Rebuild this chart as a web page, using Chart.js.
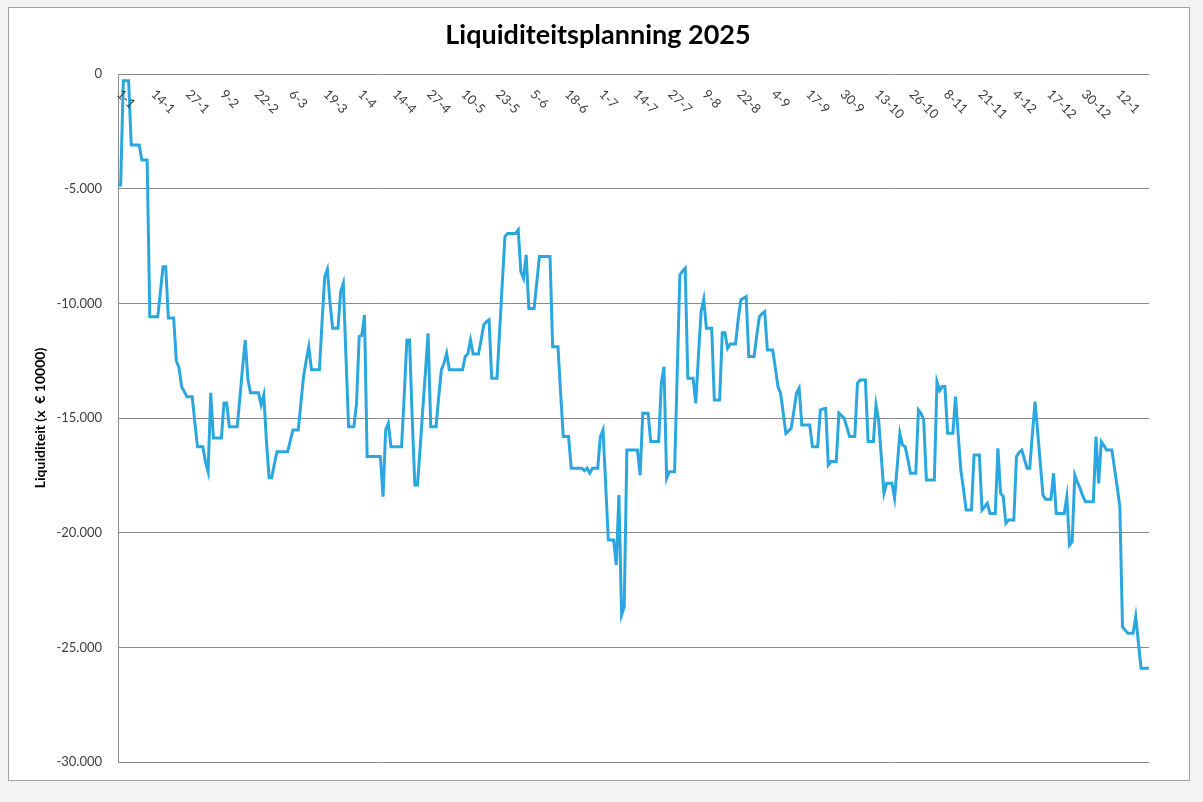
<!DOCTYPE html>
<html>
<head>
<meta charset="utf-8">
<script src="https://cdn.jsdelivr.net/npm/chart.js@4.4.1/dist/chart.umd.min.js"></script>
<style>
  body { margin: 0; background: #f3f3f3; }
  #frame { position: absolute; left: 8px; top: 7px; width: 1182px; height: 774px; background: #fff; border: 1px solid #a3a3a3; box-sizing: border-box; }
  #wrap { position: absolute; left: 0; top: 0; width: 1203px; height: 802px; }
</style>
</head>
<body>
<div id="frame"></div>
<div id="wrap"><canvas id="liquiditeit"></canvas></div>
<script>
// gegevens
var datumJaar = 2024; // de datums in het blad lopen als een schrikkeljaar (6-3, 19-3, ...)
var tickStap = 13;    // elke 13e dag een label
var yTicks = [0, -5000, -10000, -15000, -20000, -25000, -30000];

// saldo per dag vanaf 1-1
var saldo = [
  -4840, -4840, -290, -290, -290, -3100, -3100, -3100, -3100, -3750,
  -3750, -3750, -10580, -10580, -10580, -10580, -9500, -8400, -8400, -10640,
  -10640, -10640, -12500, -12800, -13630, -13850, -14070, -14070, -14070, -15200,
  -16250, -16250, -16250, -16900, -17340, -13900, -15870, -15870, -15870, -15870,
  -14350, -14350, -15380, -15380, -15380, -15380, -14100, -12800, -11600, -13300,
  -13900, -13900, -13900, -13900, -14430, -14000, -16000, -17600, -17600, -17000,
  -16470, -16470, -16470, -16470, -16470, -16000, -15520, -15520, -15520, -14360,
  -13200, -12500, -11890, -12900, -12900, -12900, -12900, -10800, -8840, -8520,
  -10000, -11090, -11090, -11090, -9490, -9130, -12300, -15380, -15380, -15380,
  -14360, -11450, -11400, -10510, -16680, -16680, -16680, -16680, -16680, -16680,
  -18430, -15520, -15230, -16250, -16250, -16250, -16250, -16250, -14000, -11600,
  -11600, -15000, -17920, -17920, -16300, -14600, -13000, -11310, -15380, -15380,
  -15380, -14100, -12900, -12610, -12180, -12900, -12900, -12900, -12900, -12900,
  -12900, -12320, -12200, -11600, -12210, -12210, -12210, -11600, -10940, -10800,
  -10720, -13270, -13270, -13270, -11200, -9100, -7090, -6950, -6950, -6950,
  -6950, -6800, -8620, -8910, -7890, -10220, -10220, -10220, -9100, -7960,
  -7960, -7960, -7960, -7960, -11890, -11890, -11890, -13900, -15810, -15810,
  -15810, -17190, -17190, -17190, -17190, -17190, -17300, -17190, -17400, -17190,
  -17190, -17190, -15810, -15520, -17900, -20320, -20320, -20320, -21410, -18360,
  -23590, -23230, -16400, -16400, -16400, -16400, -16400, -17490, -14790, -14790,
  -14790, -16030, -16030, -16030, -16030, -13490, -12760, -17630, -17340, -17340,
  -17340, -13000, -8760, -8600, -8470, -13270, -13270, -13270, -14360, -12300,
  -10360, -9820, -11090, -11090, -11090, -14210, -14210, -14210, -11280, -11280,
  -11960, -11770, -11770, -11770, -10700, -9850, -9780, -9710, -12320, -12320,
  -12320, -11400, -10580, -10450, -10360, -12030, -12030, -12030, -12800, -13630,
  -13920, -14800, -15670, -15560, -15450, -14700, -13920, -13700, -15300, -15300,
  -15300, -15300, -16250, -16250, -16250, -14650, -14600, -14580, -17050, -16900,
  -16900, -16900, -14790, -14900, -15000, -15400, -15810, -15810, -15810, -13490,
  -13340, -13340, -13340, -16030, -16030, -16030, -14430, -15090, -16700, -18280,
  -17850, -17850, -17850, -18500, -17100, -15670, -16180, -16250, -16800, -17410,
  -17410, -17410, -14650, -14800, -15090, -17700, -17700, -17700, -17700, -13420,
  -13800, -13630, -13630, -15670, -15670, -15670, -14070, -15700, -17270, -18100,
  -19010, -19010, -19010, -16610, -16610, -16610, -19010, -18870, -18720, -19160,
  -19160, -19160, -16320, -18280, -18430, -19590, -19450, -19450, -19450, -16680,
  -16500, -16400, -16800, -17190, -17190, -15700, -14290, -15600, -17000, -18360,
  -18540, -18540, -18540, -17410, -19160, -19160, -19160, -19160, -18430, -20540,
  -20400, -17490, -17800, -18070, -18400, -18650, -18650, -18650, -18650, -15810,
  -17850, -16030, -16200, -16400, -16400, -16400, -17200, -18000, -18870, -24100,
  -24250, -24390, -24390, -24390, -23660, -24800, -25910, -25910, -25910, -25910
];

// datums d-m
var dagen = [];
for (var i = 0; i < saldo.length; i++) {
  var d = new Date(datumJaar, 0, 1 + i);
  dagen.push(d.getDate() + '-' + (d.getMonth() + 1));
}

function punten(v) {
  var s = Math.abs(v).toString().replace(/\B(?=(\d{3})+(?!\d))/g, '.');
  return (v < 0 ? '-' : '') + s;
}

// datumlabels schuin onder de 0-lijn, zoals in Excel
var datumLabels = {
  id: 'datumLabels',
  afterDatasetsDraw: function (chart) {
    var xs = chart.scales.x, ys = chart.scales.y, ctx = chart.ctx;
    var y0 = ys.getPixelForValue(0);
    ctx.save();
    ctx.font = '13px Lato';
    ctx.fillStyle = '#404040';
    ctx.textAlign = 'left';
    ctx.textBaseline = 'middle';
    for (var i = 0; i < dagen.length; i += tickStap) {
      ctx.save();
      ctx.translate(xs.getPixelForValue(i) + 1, y0 + 18);
      ctx.rotate(Math.PI / 4);
      ctx.fillText(dagen[i], 0, 0);
      ctx.restore();
    }
    ctx.restore();
  }
};

var config = {
  type: 'line',
  data: {
    labels: dagen,
    datasets: [{
      label: 'Liquiditeit',
      data: saldo,
      borderColor: '#2ba7df',
      borderWidth: 3,
      pointRadius: 0,
      tension: 0,
      fill: false
    }]
  },
  options: {
    responsive: false,
    animation: false,
    layout: { padding: { left: 47, right: 54, top: 8, bottom: 40 } },
    plugins: {
      legend: { display: false },
      tooltip: { enabled: false },
      title: {
        display: true,
        text: 'Liquiditeitsplanning 2025',
        color: '#000',
        font: { family: 'Lato', size: 27, weight: 'bold', lineHeight: 1.2 },
        padding: { top: 11, bottom: 22.6 }
      }
    },
    scales: {
      x: {
        position: { y: 0 },
        grid: { display: false },
        border: { display: false },
        ticks: { display: false }
      },
      y: {
        min: -30000,
        max: 0,
        afterFit: function (s) { s.width = 71; },
        afterBuildTicks: function (s) { s.ticks = yTicks.map(function (v) { return { value: v }; }); },
        grid: { color: '#8a8a8a', lineWidth: 1, drawTicks: false },
        border: { color: '#8a8a8a' },
        ticks: {
          padding: 16,
          color: '#404040',
          font: { family: 'Lato', size: 13 },
          callback: function (v) { return punten(v); }
        },
        title: {
          display: true,
          text: 'Liquiditeit (x  \u20ac 10000)',
          color: '#000',
          font: { family: 'Lato', size: 14, weight: 'bold' },
          padding: { top: -15 }
        }
      }
    }
  },
  plugins: [datumLabels]
};

var canvas = document.getElementById('liquiditeit');
canvas.width = 1203;
canvas.height = 802;
var grafiek = new Chart(canvas, config);
</script>
</body>
</html>
